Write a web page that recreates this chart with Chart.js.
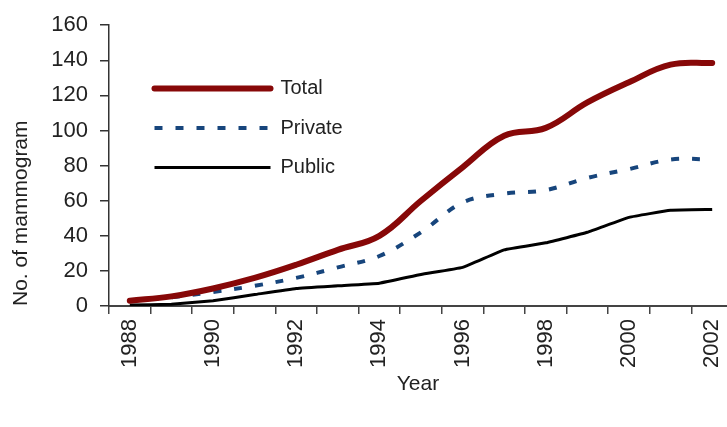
<!DOCTYPE html>
<html>
<head>
<meta charset="utf-8">
<script src="https://cdn.jsdelivr.net/npm/chart.js@4"></script>
<style>
  body { margin: 0; background: #fff; }
</style>
</head>
<body>
<canvas id="chart" width="727" height="427"></canvas>
<script>
// years on the x axis, only the even ones get a label
const years = [1988, 1989, 1990, 1991, 1992, 1993, 1994, 1995, 1996, 1997, 1998, 1999, 2000, 2001, 2002];
const yearLabels = [1988, 1990, 1992, 1994, 1996, 1998, 2000, 2002];

// No. of mammogram per year
const total   = [3, 5.5, 10, 16, 23.5, 32, 40, 60, 79, 97, 101.5, 116, 127.5, 137.5, 138.5];
const privateSector = [3, 5, 8, 11.5, 16, 22, 28.5, 42, 59, 64, 66, 73, 78, 83.5, 83.5];
const publicSector  = [0.5, 1, 3, 6.5, 10, 11.5, 13, 18, 22, 32, 36, 42, 50.5, 54.5, 55];

const toPoints = vals => years.map((y, i) => ({ x: y, y: vals[i] }));

Chart.defaults.font.family = "'Liberation Sans', Arial, sans-serif";
Chart.defaults.font.size = 20;
Chart.defaults.color = '#222';

// put the legend box inside the plot, upper left
const legendSpot = {
    id: 'legendSpot',
    afterLayout(chart) {
        chart.legend.left = 135;
        chart.legend.top = 59;
    }
};

new Chart(document.getElementById('chart').getContext('2d'), {
    type: 'line',
    data: {
        datasets: [
            {
                label: 'Total',
                data: toPoints(total),
                borderColor: '#870808',
                backgroundColor: '#870808',
                borderWidth: 6,
                borderCapStyle: 'round',
                tension: 0.4,
                pointRadius: 0
            },
            {
                label: 'Private',
                data: toPoints(privateSector),
                borderColor: '#17457c',
                backgroundColor: '#17457c',
                borderWidth: 4,
                borderDash: [8, 13],
                tension: 0.35,
                pointRadius: 0
            },
            {
                label: 'Public',
                data: toPoints(publicSector),
                borderColor: '#000',
                backgroundColor: '#000',
                borderWidth: 3,
                tension: 0.1,
                pointRadius: 0
            }
        ]
    },
    options: {
        responsive: false,
        animation: false,
        devicePixelRatio: 1,
        layout: { autoPadding: false, padding: { top: 18, left: 0, right: 0, bottom: 0 } },
        plugins: {
            legend: {
                position: 'chartArea',
                align: 'start',
                labels: {
                    usePointStyle: true,
                    pointStyle: 'line',
                    pointStyleWidth: 116,
                    padding: 19.5,
                    font: { size: 20 },
                    // legend lines keep the dash and width of their dataset
                    generateLabels(chart) {
                        const items = Chart.defaults.plugins.legend.labels.generateLabels(chart);
                        items.forEach(item => {
                            const ds = chart.data.datasets[item.datasetIndex];
                            item.lineDash = ds.borderDash || [];
                            item.lineWidth = ds.borderWidth;
                            item.strokeStyle = ds.borderColor;
                            item.lineCap = ds.borderCapStyle || 'butt';
                        });
                        return items;
                    }
                }
            },
            tooltip: { enabled: false }
        },
        scales: {
            x: {
                type: 'linear',
                min: 1987.5,
                max: 2002.356,
                afterBuildTicks: axis => { axis.ticks = years.map(v => ({ value: v })); },
                afterFit: axis => { axis.height = 121; axis.paddingLeft = 0; axis.paddingRight = 0; },
                border: { display: true, color: '#444', width: 2 },
                grid: {
                    offset: true,
                    drawOnChartArea: false,
                    drawTicks: true,
                    tickLength: 8,
                    color: '#444',
                    lineWidth: 1.5
                },
                ticks: {
                    autoSkip: false,
                    minRotation: 90,
                    maxRotation: 90,
                    padding: 5,
                    font: { size: 22 },
                    callback: v => yearLabels.includes(v) ? String(v) : ''
                },
                title: {
                    display: true,
                    text: 'Year',
                    font: { size: 21 },
                    padding: { top: 0, bottom: 30 }
                }
            },
            y: {
                min: 0,
                max: 160,
                afterFit: axis => { axis.width = 109; },
                border: { display: true, color: '#333', width: 1.5 },
                grid: {
                    drawOnChartArea: false,
                    drawTicks: true,
                    tickLength: 9,
                    color: '#333',
                    lineWidth: 1.5
                },
                ticks: {
                    stepSize: 20,
                    padding: 12,
                    font: { size: 22 }
                },
                title: {
                    display: true,
                    text: 'No. of mammogram',
                    align: 'start',
                    font: { size: 21 },
                    padding: { top: 9, bottom: 8 }
                }
            }
        }
    },
    plugins: [legendSpot]
});
</script>
</body>
</html>
